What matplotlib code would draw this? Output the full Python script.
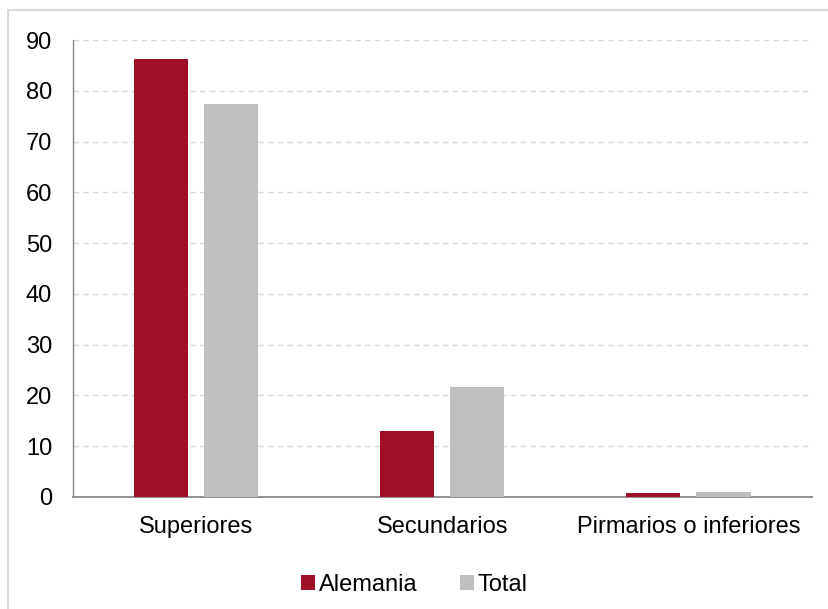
import matplotlib
matplotlib.use('Agg')
from matplotlib import pyplot as plt
from matplotlib.lines import Line2D
import numpy as np

plt.rcParams['font.family'] = ['Liberation Sans', 'DejaVu Sans']

# Data
categories = ['Superiores', 'Secundarios', 'Pirmarios o inferiores']
alemania = [86.3, 12.9, 0.8]
total = [77.4, 21.7, 1.0]
y_ticks = [0, 10, 20, 30, 40, 50, 60, 70, 80, 90]

red = '#9E1027'
grey = '#BFBFBF'

fig = plt.figure(figsize=(8.29, 6.09), dpi=100)
ax = fig.add_axes([0.088, 0.184, 0.891, 0.750])

x = np.arange(len(categories))
w = 0.22
gap = 0.065
ax.bar(x - (w + gap) / 2, alemania, width=w, color=red, label='Alemania', zorder=3)
ax.bar(x + (w + gap) / 2, total, width=w, color=grey, label='Total', zorder=3)

ax.set_xlim(-0.5, len(categories) - 0.5)
ax.set_ylim(0, 90)
ax.set_yticks(y_ticks)
ax.set_xticks(x)
ax.set_xticklabels(categories)
ax.tick_params(axis='both', labelsize=17, length=0, colors='#000000')
ax.tick_params(axis='y', pad=15)
ax.tick_params(axis='x', pad=14)

ax.grid(axis='y', color='#D9D9D9', linestyle=(0, (4, 3)), linewidth=1, zorder=0)
for s in ['top', 'right']:
    ax.spines[s].set_visible(False)
ax.spines['left'].set_color('#898989')
ax.spines['bottom'].set_color('#898989')
ax.spines['left'].set_linewidth(1)
ax.spines['bottom'].set_linewidth(1.3)

leg = fig.legend(loc='center', bbox_to_anchor=(0.5, 0.04), ncol=2, frameon=False,
                 fontsize=17, handlelength=0.6, handleheight=0.6, handletextpad=0.15,
                 columnspacing=1.8)

# outer chart frame (top and left edges only visible in the crop)
fig.add_artist(Line2D([8 / 829, 1], [1 - 10 / 609, 1 - 10 / 609],
                      transform=fig.transFigure, color='#D9D9D9', linewidth=1.5))
fig.add_artist(Line2D([8 / 829, 8 / 829], [0, 1 - 10 / 609],
                      transform=fig.transFigure, color='#D9D9D9', linewidth=1.5))

fig.savefig('out.png', dpi=100)
